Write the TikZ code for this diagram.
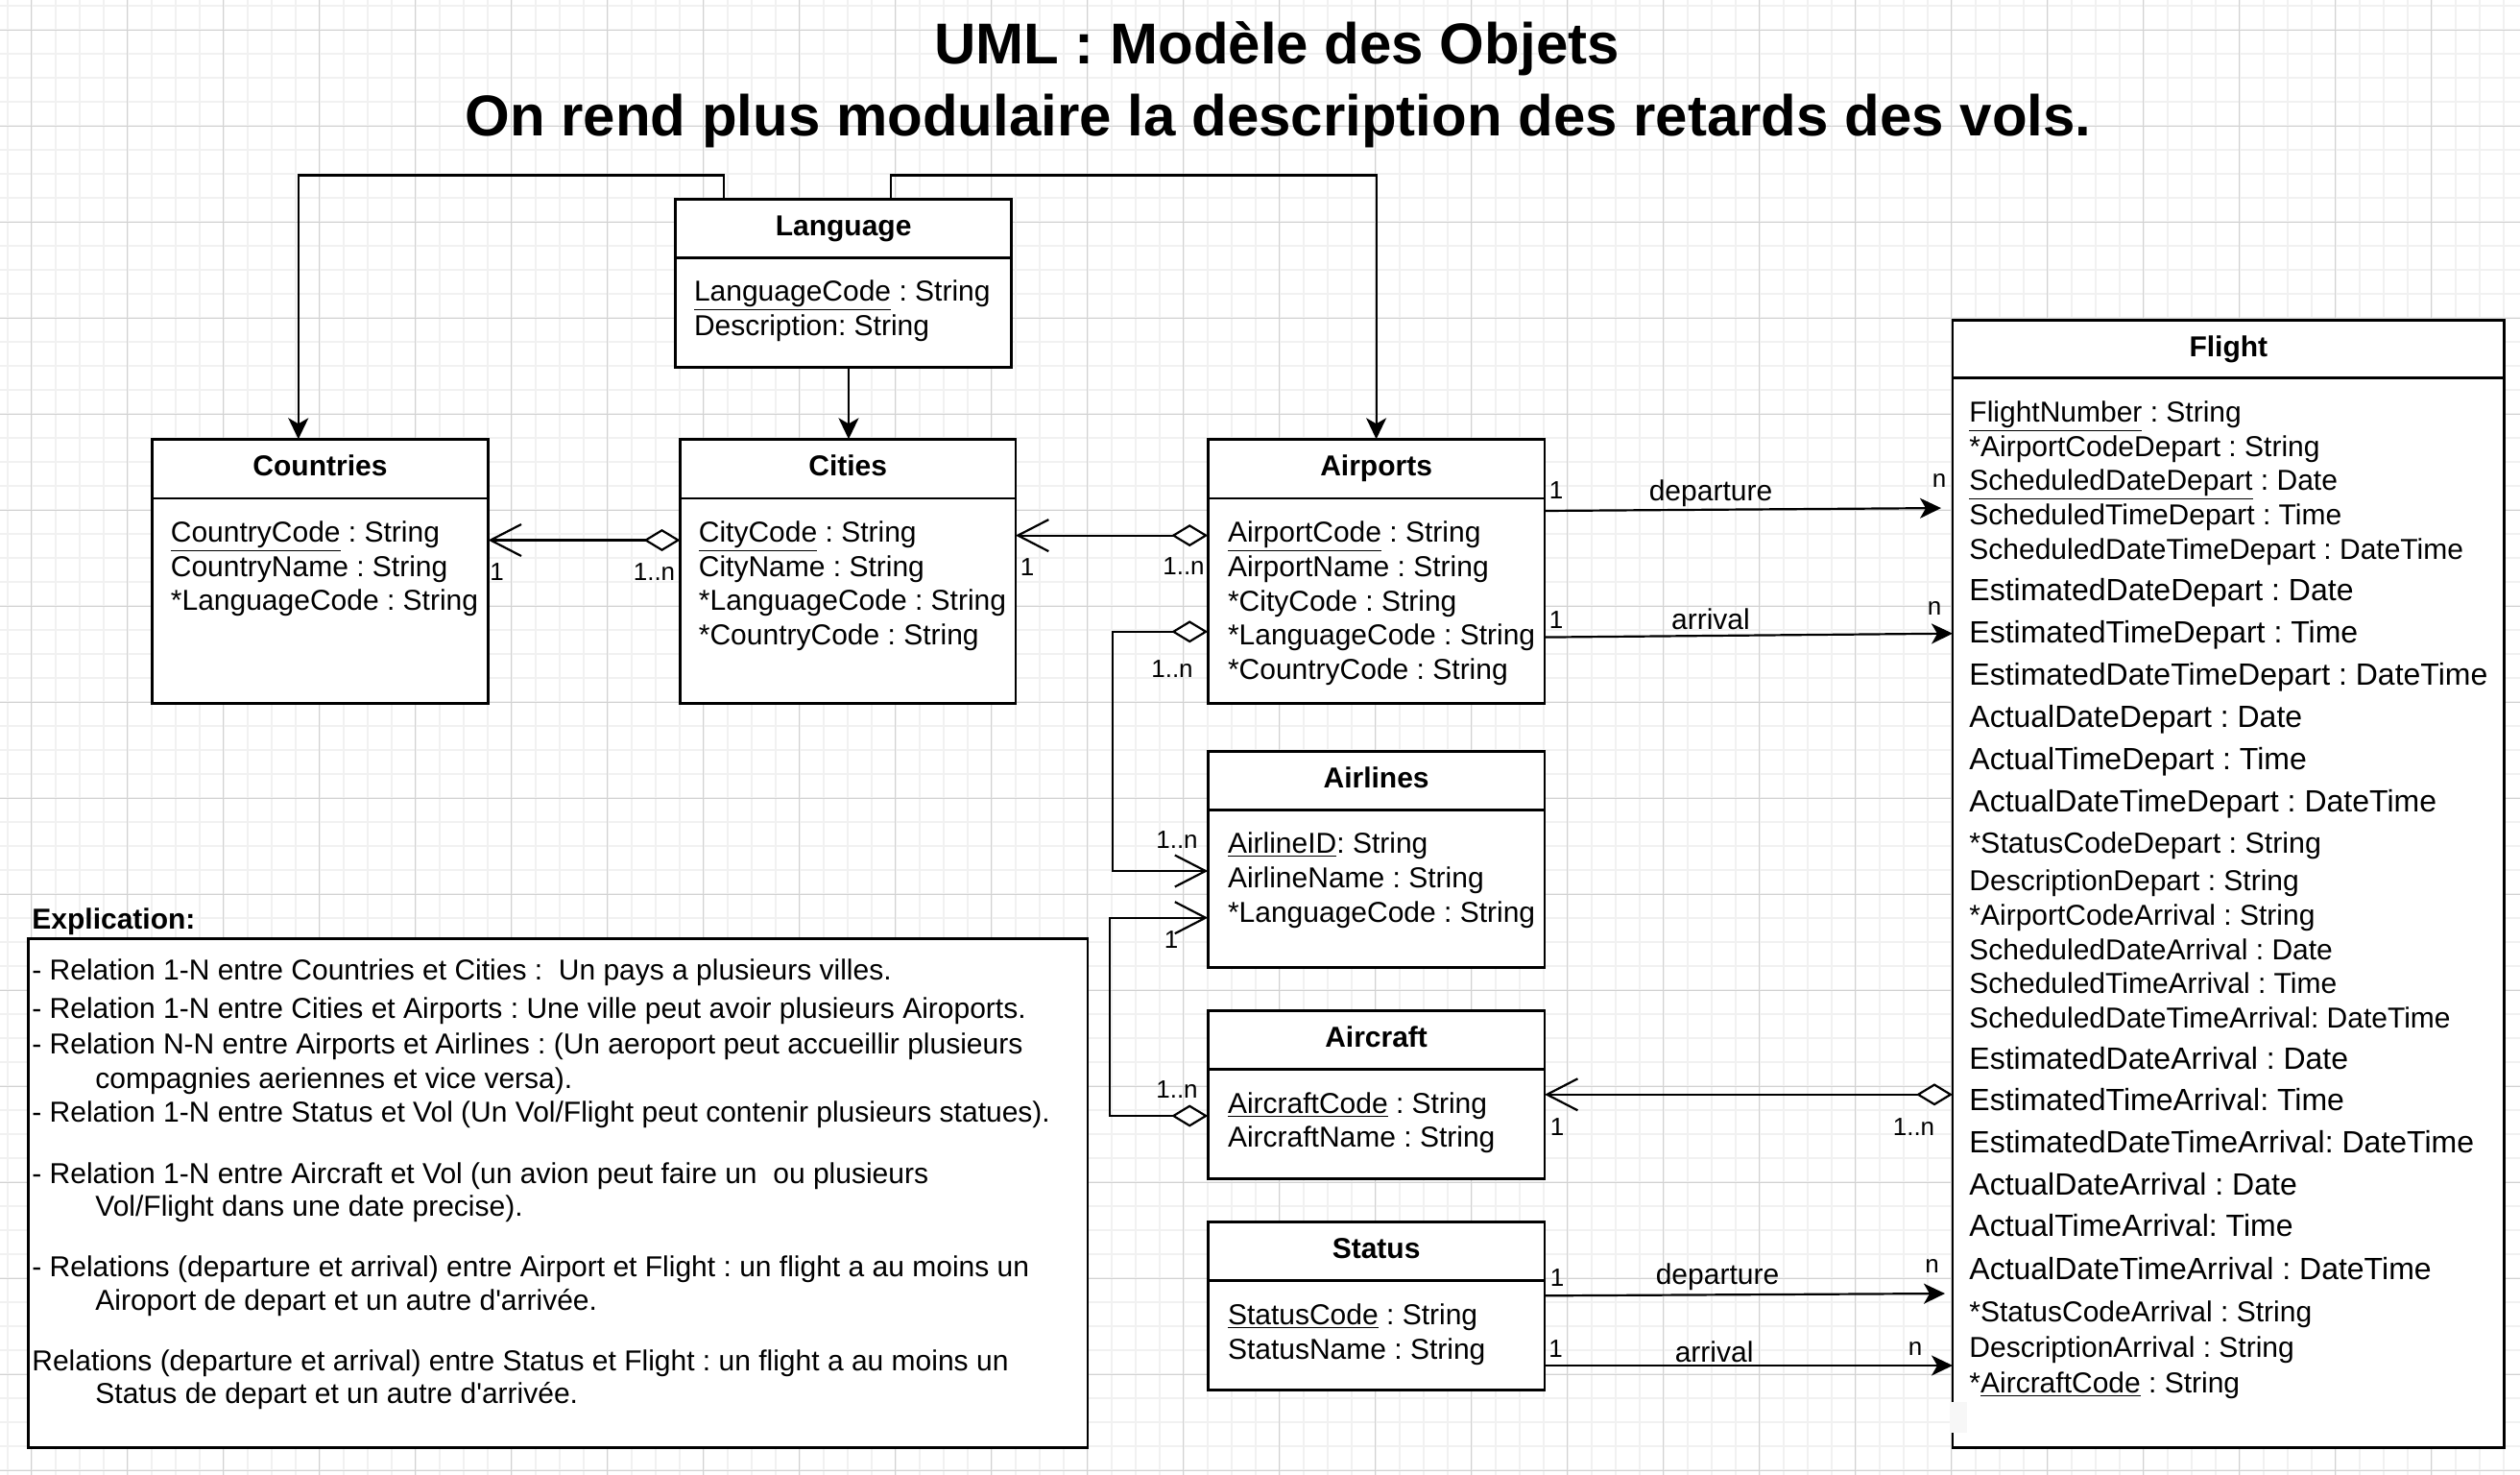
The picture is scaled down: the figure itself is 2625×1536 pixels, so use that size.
\documentclass[tikz,border=0pt]{standalone}
\usepackage{fontspec}
\setmainfont{Liberation Sans}
\usetikzlibrary{arrows.meta,fit,calc}
\definecolor{gridminor}{HTML}{F1F1F1}
\definecolor{gridmajor}{HTML}{D2D2D2}
\frenchspacing
\begin{document}
\frenchspacing
\begin{tikzpicture}[x=0.5pt, y=-0.5pt,
  boxst/.style={draw=black, line width=1.4pt, fill=white, inner sep=0pt, outer sep=0pt},
  divl/.style={line width=1.4pt},
  attr/.style={anchor=base west, inner sep=0pt, font=\fontsize{15pt}{18pt}\selectfont},
  hdr/.style={anchor=base, inner sep=0pt, font=\fontsize{15pt}{18pt}\selectfont\bfseries},
  mult/.style={anchor=base, inner sep=0pt, font=\fontsize{13pt}{15pt}\selectfont},
  rel/.style={anchor=base, inner sep=0pt, font=\fontsize{15pt}{18pt}\selectfont},
  expl/.style={anchor=base west, inner sep=0pt, font=\fontsize{15pt}{18pt}\selectfont},
  conn/.style={line width=1.1pt},
  clsarrow/.style={conn, -{Stealth[length=11pt,width=10.5pt,inset=3pt]}},
  aggr/.style={conn, {Diamond[length=19pt,width=11.5pt,fill=white]}-{Straight Barb[length=16pt,width=16.5pt]}},
]
\useasboundingbox (0,0) rectangle (2625,1536);
\fill[white] (0,0) rectangle (2625,1536);
% grid
\foreach \gx in {7.7,32.7,...,2625} \draw[gridminor, line width=1pt] (\gx,0) -- (\gx,1536);
\foreach \gy in {6.3,31.3,...,1536} \draw[gridminor, line width=1pt] (0,\gy) -- (2625,\gy);
\foreach \gx in {32.7,132.7,...,2625} \draw[gridmajor, line width=0.45pt] (\gx,0) -- (\gx,1536);
\foreach \gy in {31.3,131.3,...,1536} \draw[gridmajor, line width=0.45pt] (0,\gy) -- (2625,\gy);

% titles
\node[anchor=base, inner sep=0pt, font=\fontsize{30pt}{36pt}\selectfont\bfseries] (title1) at (1330,66.7) {UML : Modèle des Objets};
\node[anchor=base, inner sep=0pt, font=\fontsize{30pt}{36pt}\selectfont\bfseries] (title2) at (1331.5,141.7) {On rend plus modulaire la description des retards des vols.};

% boxes
\node[boxst, fit={(703.6,207.4) (1053.7,382.3)}] (language) {};
\node[boxst, fit={(158.5,457.3) (508.6,732.5)}] (countries) {};
\node[boxst, fit={(708.5,457.3) (1057.9,732.5)}] (cities) {};
\node[boxst, fit={(1258.2,457.3) (1609,732.5)}] (airports) {};
\node[boxst, fit={(1258.2,782.5) (1609,1007.3)}] (airlines) {};
\node[boxst, fit={(1258.2,1052.3) (1609,1227.3)}] (aircraft) {};
\node[boxst, fit={(1258.2,1272.3) (1609,1447.4)}] (status) {};
\node[boxst, fit={(2034,333.4) (2608.6,1507.2)}] (flight) {};
\node[boxst, fit={(29.3,977.8) (1133,1507.4)}] (explbox) {};
\fill[gray!6] (2031,1460) rectangle (2049,1492);

% header dividers
\draw[divl] (language.west |- 0,268.6) -- (language.east |- 0,268.6);
\draw[divl] (countries.west |- 0,519) -- (countries.east |- 0,519);
\draw[divl] (cities.west |- 0,519) -- (cities.east |- 0,519);
\draw[divl] (airports.west |- 0,519) -- (airports.east |- 0,519);
\draw[divl] (airlines.west |- 0,843.7) -- (airlines.east |- 0,843.7);
\draw[divl] (aircraft.west |- 0,1113.5) -- (aircraft.east |- 0,1113.5);
\draw[divl] (status.west |- 0,1333.5) -- (status.east |- 0,1333.5);
\draw[divl] (flight.west |- 0,393.5) -- (flight.east |- 0,393.5);

% headers
\node[hdr] (languageT) at (878.6,245.7) {Language};
\node[hdr] (countriesT) at (333.5,495.6) {Countries};
\node[hdr] (citiesT) at (883.2,495.6) {Cities};
\node[hdr] (airportsT) at (1433.6,495.6) {Airports};
\node[hdr] (airlinesT) at (1433.6,820.8) {Airlines};
\node[hdr] (aircraftT) at (1433.6,1090.6) {Aircraft};
\node[hdr] (statusT) at (1433.6,1310.6) {Status};
\node[hdr] (flightT) at (2321.3,371) {Flight};

% attributes
\node[attr] (lang1) at (722.6,313.7) {\underline{LanguageCode} : String};
\node[attr] (lang2) at (722.6,349.4) {Description: String};

\foreach \txt [count=\i] in {{\underline{CountryCode} : String},{CountryName : String},{*LanguageCode : String}}
  \node[attr] (ctry\i) at (177.5,{564.4+35.6*(\i-1)}) {\txt};
\foreach \txt [count=\i] in {{\underline{CityCode} : String},{CityName : String},{*LanguageCode : String},{*CountryCode : String}}
  \node[attr] (city\i) at (727.5,{564.4+35.7*(\i-1)}) {\txt};
\foreach \txt [count=\i] in {{\underline{AirportCode} : String},{AirportName : String},{*CityCode : String},{*LanguageCode : String},{*CountryCode : String}}
  \node[attr] (apt\i) at (1278.6,{564.4+35.8*(\i-1)}) {\txt};
\foreach \txt [count=\i] in {{\underline{AirlineID}: String},{AirlineName : String},{*LanguageCode : String}}
  \node[attr] (aln\i) at (1278.6,{888.7+36*(\i-1)}) {\txt};
\foreach \txt [count=\i] in {{\underline{AircraftCode} : String},{AircraftName : String}}
  \node[attr] (acft\i) at (1278.6,{1159.1+35.4*(\i-1)}) {\txt};
\foreach \txt [count=\i] in {{\underline{StatusCode} : String},{StatusName : String}}
  \node[attr] (stat\i) at (1278.6,{1379.2+35.8*(\i-1)}) {\txt};

\foreach \yy/\fz/\txt [count=\i] in {
439.7/15/{\underline{FlightNumber} : String},
475.4/15/{*AirportCodeDepart : String},
510.6/15/{\underline{ScheduledDateDepart} : Date},
546.2/15/{ScheduledTimeDepart : Time},
582.1/15/{ScheduledDateTimeDepart : DateTime},
625.4/16/{EstimatedDateDepart : Date},
669/16/{EstimatedTimeDepart : Time},
713/16/{EstimatedDateTimeDepart : DateTime},
757.1/16/{ActualDateDepart : Date},
801.1/16/{ActualTimeDepart : Time},
845.1/16/{ActualDateTimeDepart : DateTime},
888.5/15.2/{*StatusCodeDepart : String},
927.7/15/{DescriptionDepart : String},
963.4/15/{*AirportCodeArrival : String},
999.1/15/{ScheduledDateArrival : Date},
1034.4/15/{ScheduledTimeArrival : Time},
1070.1/15/{ScheduledDateTimeArrival: DateTime},
1113.1/16/{EstimatedDateArrival : Date},
1156.9/16/{EstimatedTimeArrival: Time},
1200.7/16/{EstimatedDateTimeArrival: DateTime},
1244.1/16/{ActualDateArrival : Date},
1287.9/16/{ActualTimeArrival: Time},
1332.1/16/{ActualDateTimeArrival : DateTime},
1376.3/15/{*StatusCodeArrival : String},
1413.7/15/{DescriptionArrival : String},
1450.2/15/{*\underline{AircraftCode} : String}}
  \node[attr, font=\fontsize{\fz pt}{\fz pt}\selectfont] (fl\i) at (2051,\yy) {\txt};

% connectors
\draw[clsarrow] (language.north -| 754,0) |- (310.8,182.5) -- (countries.north -| 310.8,0);
\draw[clsarrow] (language.south -| 884,0) -- (cities.north -| 884,0);
\draw[clsarrow] (language.north -| 928,0) |- (1433.6,182.5) -- (airports.north -| 1433.6,0);
\draw[aggr] (cities.west |- 0,562.5) -- (countries.east |- 0,562.5);
\draw[aggr] (airports.west |- 0,557.6) -- (cities.east |- 0,557.6);
\draw[aggr] (airports.west |- 0,657.8) -| (1158.7,907) -- (airlines.west |- 0,907);
\draw[aggr] (aircraft.west |- 0,1162) -| (1156,955.7) -- (airlines.west |- 0,955.7);
\draw[aggr] (flight.west |- 0,1139.8) -- (aircraft.east |- 0,1139.8);
\draw[clsarrow, shorten >=6pt] (airports.east |- 0,532) -- (flight.west |- 0,529);
\draw[clsarrow] (airports.east |- 0,663.6) -- (flight.west |- 0,659.7);
\draw[clsarrow, shorten >=4pt] (status.east |- 0,1349.3) -- (flight.west |- 0,1347);
\draw[clsarrow] (status.east |- 0,1422) -- (flight.west |- 0,1422);

% multiplicities and roles
\node[mult] (m1) at (517.5,604.3) {1};
\node[mult] (m2) at (681.5,604.3) {1..n};
\node[mult] (m3) at (1070,599.3) {1};
\node[mult] (m4) at (1233,598.6) {1..n};
\node[mult] (m5) at (1221,705.8) {1..n};
\node[mult] (m6) at (1621,519) {1};
\node[rel] (r1) at (1782,521.2) {departure};
\node[mult] (m7) at (2020,507.7) {n};
\node[mult] (m8) at (1621,654.1) {1};
\node[rel] (r2) at (1782,655.5) {arrival};
\node[mult] (m9) at (2015,640.7) {n};
\node[mult] (m10) at (1226,883.7) {1..n};
\node[mult] (m11) at (1220,987.9) {1};
\node[mult] (m12) at (1226,1143.3) {1..n};
\node[mult] (m13) at (1622,1182.6) {1};
\node[mult] (m14) at (1993.5,1182.6) {1..n};
\node[mult] (m15) at (1622,1339.3) {1};
\node[rel] (r3) at (1789,1337.3) {departure};
\node[mult] (m16) at (2012.6,1325.7) {n};
\node[mult] (m17) at (1620.6,1413.6) {1};
\node[rel] (r4) at (1785.6,1418.4) {arrival};
\node[mult] (m18) at (1995,1411) {n};

% explication
\node[expl, font=\fontsize{15pt}{18pt}\selectfont\bfseries] (explT) at (33,967.7) {\underline{Explication:}};
\node[expl] (e1) at (33,1020.3) {- Relation 1-N entre Countries et Cities :\ \ Un pays a plusieurs villes.};
\node[expl] (e2) at (33,1060.4) {- Relation 1-N entre Cities et Airports : Une ville peut avoir plusieurs Airoports.};
\node[expl] (e3) at (33,1097.7) {- Relation N-N entre Airports et Airlines : (Un aeroport peut accueillir plusieurs};
\node[expl] (e3b) at (99,1133.1) {compagnies aeriennes et vice versa).};
\node[expl] (e4) at (33,1168.4) {- Relation 1-N entre Status et Vol (Un Vol/Flight peut contenir plusieurs statues).};
\node[expl] (e5) at (33,1232.5) {- Relation 1-N entre Aircraft et Vol (un avion peut faire un\ \ ou plusieurs};
\node[expl] (e5b) at (99,1266.7) {Vol/Flight dans une date precise).};
\node[expl] (e6) at (33,1329.5) {- Relations (departure et arrival) entre Airport et Flight : un flight a au moins un};
\node[expl] (e6b) at (99,1364.9) {Airoport de depart et un autre d\textquotesingle arrivée.};
\node[expl] (e7) at (33,1427.7) {Relations (departure et arrival) entre Status et Flight : un flight a au moins un};
\node[expl] (e7b) at (99,1461.9) {Status de depart et un autre d\textquotesingle arrivée.};
\end{tikzpicture}
\end{document}
